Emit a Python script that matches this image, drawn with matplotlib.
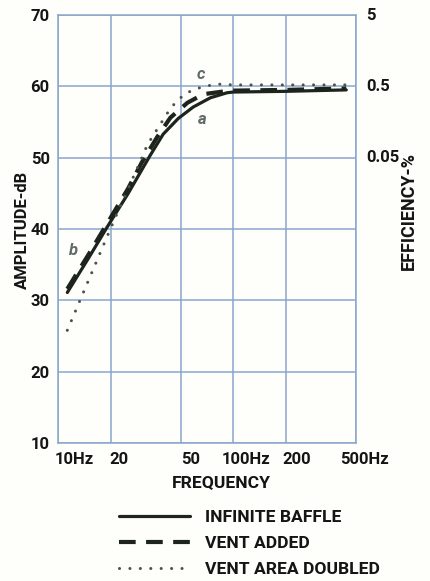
import matplotlib
matplotlib.use("Agg")
import matplotlib.pyplot as plt
import matplotlib.transforms as mtransforms
import logging
logging.getLogger('matplotlib.font_manager').setLevel(logging.ERROR)

# ---- data ----
freq_a = [11.3, 15, 19.1, 25, 33.5, 39.8, 48.5, 59, 74, 92, 100, 200, 440]
amp_a = [31.1, 36.0, 40.3, 44.9, 50.3, 53.3, 55.5, 57.1, 58.4, 59.1, 59.2, 59.3, 59.5]

freq_b = [11.3, 15, 19.1, 25, 30, 36.8, 43.7, 54.7, 67.5, 89, 100, 200, 440]
amp_b = [31.6, 36.5, 40.8, 45.6, 49.3, 52.9, 55.6, 57.7, 58.9, 59.3, 59.4, 59.5, 59.7]

freq_c = [11.3, 14.4, 18.5, 22, 26, 29.5, 32.3, 36.8, 41.9, 46.6, 53.2, 62.2, 71.9, 84, 100, 200, 440]
amp_c = [25.8, 31.9, 38.2, 42.5, 46.5, 49.5, 51.8, 54.0, 56.2, 57.7, 59.0, 59.7, 60.1, 60.3, 60.2, 60.2, 60.2]

series_labels = ["INFINITE BAFFLE", "VENT ADDED", "VENT AREA DOUBLED"]
curve_letters = ["a", "b", "c"]
letter_pos_f = [66.6, 12.2, 64.9]
letter_pos_db = [55.4, 37.0, 61.6]

x_ticks = [10, 20, 50, 100, 200, 500]
x_tick_labels = ["10Hz", "20", "50", "100Hz", "200", "500Hz"]
y_ticks = [10, 20, 30, 40, 50, 60, 70]
eff_ticks_db = [70, 60, 50]
eff_tick_labels = ["5", "0.5", "0.05"]

# ---- style ----
W, H = 430, 581
plt.rcParams['font.family'] = ['Roboto', 'Roboto Condensed', 'DejaVu Sans']
FS = 12
FS_T = 12.6
WT = 'bold'
ink = '#1c241c'
txtc = '#151515'
gridc = '#8aa6cc'
bg = '#fefefa'

fig = plt.figure(figsize=(W / 100, H / 100), dpi=100, facecolor=bg)
ax = fig.add_axes([58 / W, 1 - 443 / H, (356 - 58) / W, (443 - 15) / H], facecolor=bg)

ax.set_xscale('log')
ax.set_xlim(10, 500)
ax.set_ylim(10, 70)

la, = ax.plot(freq_a, amp_a, color=ink, lw=2.3, solid_capstyle='round')
lb, = ax.plot(freq_b, amp_b, color=ink, lw=3.0, dashes=(4, 2.5), dash_capstyle='butt')
lc, = ax.plot(freq_c, amp_c, color='#4a524a', lw=2.2, dashes=(0.01, 3.4), dash_capstyle='round')

for s, f, d in zip(curve_letters, letter_pos_f, letter_pos_db):
    ax.text(f, d, s, fontsize=FS, style='italic', weight='bold', color='#606a66',
            ha='center', va='center')

ax.set_xticks(x_ticks)
ax.set_xticklabels([])
ax.xaxis.set_minor_locator(matplotlib.ticker.NullLocator())
ax.set_yticks(y_ticks)
ax.set_yticklabels([str(v) for v in y_ticks], fontsize=FS, weight=WT, color=txtc)
ax.tick_params(axis='both', length=0, pad=6)
ax.grid(True, which='major', color=gridc, lw=1.1)
for sp in ax.spines.values():
    sp.set_color(gridc)
    sp.set_linewidth(1.1)

# x tick labels (custom alignment like the original)
x_offsets_px = [-3, -1, 1, -12, -4, -16]
trans_x = mtransforms.blended_transform_factory(ax.transData, ax.transAxes)
for v, lab, off in zip(x_ticks, x_tick_labels, x_offsets_px):
    t = trans_x + mtransforms.ScaledTranslation(off / 100, -9 / 100, fig.dpi_scale_trans)
    ax.text(v, 0, lab, transform=t, ha='left', va='top', fontsize=FS, weight=WT, color=txtc)

# right efficiency labels
trans_y = mtransforms.blended_transform_factory(ax.transAxes, ax.transData)
for v, lab in zip(eff_ticks_db, eff_tick_labels):
    t = trans_y + mtransforms.ScaledTranslation(10 / 100, 0, fig.dpi_scale_trans)
    ax.text(1, v, lab, transform=t, ha='left', va='center', fontsize=FS, weight=WT, color=txtc)

fig.text(22 / W, 1 - 230 / H, "AMPLITUDE-dB", rotation=90, ha='center', va='center',
         fontsize=FS, weight=WT, color=txtc)
fig.text(409 / W, 1 - 211 / H, "EFFICIENCY-%", rotation=90, ha='center', va='center',
         fontsize=13, weight=WT, color=txtc)
fig.text(221 / W, 1 - 483 / H, "FREQUENCY", ha='center', va='center',
         fontsize=FS_T, weight=WT, color=txtc)

fs_px = FS_T * 100 / 72
leg = fig.legend([la, lb, lc], series_labels, loc='upper left',
                 bbox_to_anchor=(112 / W, 1 - 503 / H), frameon=False,
                 prop={'size': FS_T, 'weight': WT}, handlelength=71 / fs_px,
                 handletextpad=15 / fs_px, labelspacing=0.6, borderaxespad=0)
for t in leg.get_texts():
    t.set_color(txtc)

fig.savefig('out.png', dpi=100, facecolor=bg)
